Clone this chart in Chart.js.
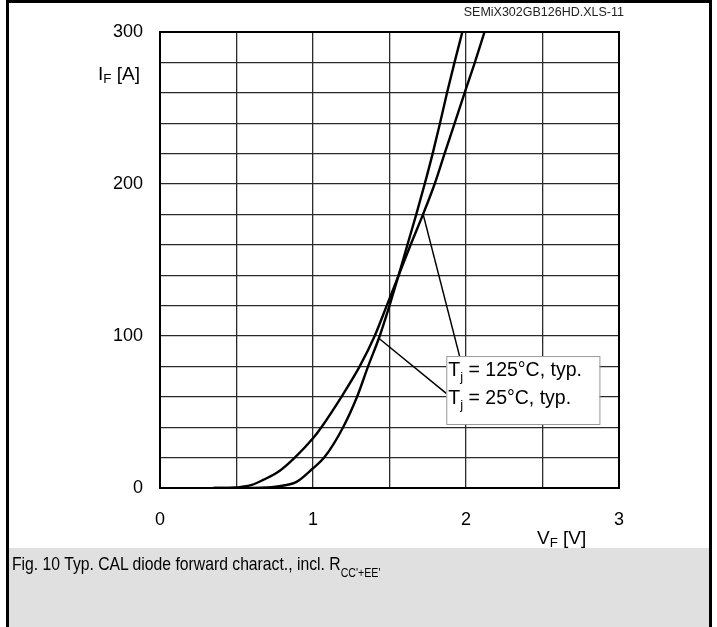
<!DOCTYPE html>
<html>
<head>
<meta charset="utf-8">
<script src="https://cdn.jsdelivr.net/npm/chart.js@4.4.1/dist/chart.umd.min.js"></script>
<style>
  body { margin: 0; background: #fff; font-family: "Liberation Sans", Arial, sans-serif; }
  #wrap { position: relative; width: 717px; height: 627px; overflow: hidden; }
  #frame { position: absolute; left: 6px; top: 0px; width: 700px; height: 640px; border: 3px solid #000; border-bottom: none; }
  #caption { position: absolute; left: 9px; top: 548px; width: 700px; height: 90px; background: #e0e0e0; }
  canvas { position: absolute; left: 0; top: 0; }
  .txt { position: absolute; color: #000; white-space: nowrap; }
  sub { font-size: 70%; vertical-align: -0.25em; line-height: 0; }
</style>
</head>
<body>
<div id="wrap">
  <div id="caption"></div>
  <div id="frame"></div>
  <canvas id="diodeChart" width="717" height="627"></canvas>
  <div class="txt" style="right:93px; top:5px; font-size:12.5px; color:#222;">SEMiX302GB126HD.XLS-11</div>
  <div class="txt" style="right:577px; top:63px; font-size:19px;">I<sub>F</sub> [A]</div>
  <div class="txt" style="left:537px; top:527px; font-size:19px;">V<sub>F</sub> [V]</div>
  <div class="txt" style="left:12px; top:553px; font-size:18.5px; transform:scaleX(0.85); transform-origin:left;">Fig. 10 Typ. CAL diode forward charact., incl. R<sub style="font-size:12.5px; vertical-align:-0.55em;">CC'+EE'</sub></div>
</div>
<script>
// Forward voltage / current
const v125 = [0.35, 0.45, 0.5, 0.6, 0.674, 0.783, 0.881, 1.0, 1.055, 1.186, 1.305, 1.403, 1.482, 1.56, 1.638, 1.719, 1.795, 1.86, 1.926, 1.991, 2.058, 2.121];
const i125 = [0, 0, 0.3, 2, 5.3, 11.4, 20, 32.7, 40, 60, 80, 100, 120, 140, 160, 180, 200, 220, 240, 260, 280, 300];
const v25 = [0.35, 0.6, 0.7, 0.8, 0.892, 1.0, 1.073, 1.197, 1.288, 1.36, 1.436, 1.5, 1.56, 1.617, 1.675, 1.73, 1.782, 1.83, 1.876, 1.925, 1.976];
const i25 = [0, 0, 0.3, 1.5, 4, 13, 20, 40, 60, 80, 100, 120, 140, 160, 180, 200, 220, 240, 260, 280, 300];

const xTickLabels = [0, 1, 2, 3];
const yTickLabels = [0, 100, 200, 300];

// label box and leader lines, in data units
const labelBox = { x0: 1.871, x1: 2.872, y0: 86.8, y1: 42.1 };
const leader125 = { from: [1.72, 180], to: [1.958, 86.8] };
const leader25 = { from: [1.436, 98], to: [1.871, 62.3] };

function toPoints(xs, ys) {
    return xs.map((x, i) => ({ x: x, y: ys[i] }));
}

const FONT = '"Liberation Sans", Arial, sans-serif';

const annotations = {
    id: 'annotations',
    afterDatasetsDraw(chart) {
        const { ctx, chartArea, scales: { x, y } } = chart;
        ctx.save();

        // leader lines
        ctx.strokeStyle = '#000';
        ctx.lineWidth = 1.5;
        [leader125, leader25].forEach(l => {
            ctx.beginPath();
            ctx.moveTo(x.getPixelForValue(l.from[0]), y.getPixelForValue(l.from[1]));
            ctx.lineTo(x.getPixelForValue(l.to[0]), y.getPixelForValue(l.to[1]));
            ctx.stroke();
        });

        // label box
        const bx = x.getPixelForValue(labelBox.x0);
        const by = y.getPixelForValue(labelBox.y0);
        const bw = x.getPixelForValue(labelBox.x1) - bx;
        const bh = y.getPixelForValue(labelBox.y1) - by;
        ctx.fillStyle = '#fff';
        ctx.fillRect(bx, by, bw, bh);
        ctx.strokeStyle = '#999';
        ctx.lineWidth = 1;
        ctx.strokeRect(bx + 0.5, by + 0.5, bw, bh);

        ctx.fillStyle = '#000';
        ctx.textBaseline = 'alphabetic';
        const lines = [' = 125°C, typ.', ' = 25°C, typ.'];
        lines.forEach((rest, k) => {
            const base = by + 20 + k * 27.5;
            let tx = bx + 2;
            ctx.font = '19.5px ' + FONT;
            ctx.fillText('T', tx, base);
            tx += ctx.measureText('T').width;
            ctx.font = '13px ' + FONT;
            ctx.fillText('j', tx, base + 5);
            tx += ctx.measureText('j').width;
            ctx.font = '19.5px ' + FONT;
            ctx.fillText(rest, tx, base);
        });

        // plot border
        ctx.strokeStyle = '#000';
        ctx.lineWidth = 2;
        ctx.strokeRect(chartArea.left, chartArea.top, chartArea.right - chartArea.left, chartArea.bottom - chartArea.top);
        ctx.restore();
    }
};

const curveStyle = {
    borderColor: '#000',
    borderWidth: 2.4,
    pointRadius: 0,
    showLine: true,
    fill: false,
    cubicInterpolationMode: 'monotone'
};

new Chart(document.getElementById('diodeChart'), {
    type: 'scatter',
    data: {
        datasets: [
            Object.assign({ label: 'Tj = 125°C, typ.', data: toPoints(v125, i125) }, curveStyle),
            Object.assign({ label: 'Tj = 25°C, typ.', data: toPoints(v25, i25) }, curveStyle)
        ]
    },
    options: {
        responsive: false,
        animation: false,
        devicePixelRatio: 1,
        layout: { padding: { left: 0, top: 32, right: 98, bottom: 0 } },
        plugins: { legend: { display: false }, tooltip: { enabled: false } },
        scales: {
            x: {
                type: 'linear',
                min: 0, max: 3,
                afterFit: s => { s.height = 139; },
                border: { display: false },
                grid: { color: '#2a2a2a', lineWidth: 1.3, drawTicks: false },
                ticks: {
                    stepSize: 0.5,
                    padding: 21,
                    color: '#000',
                    font: { family: FONT, size: 18 },
                    maxRotation: 0,
                    callback: v => xTickLabels.includes(v) ? String(v) : ''
                }
            },
            y: {
                type: 'linear',
                min: 0, max: 300,
                afterFit: s => { s.width = 160; },
                border: { display: false },
                grid: { color: '#2a2a2a', lineWidth: 1.3, drawTicks: false },
                ticks: {
                    stepSize: 20,
                    padding: 17,
                    color: '#000',
                    font: { family: FONT, size: 18 },
                    callback: v => yTickLabels.includes(v) ? String(v) : ''
                }
            }
        }
    },
    plugins: [annotations]
});
</script>
</body>
</html>
